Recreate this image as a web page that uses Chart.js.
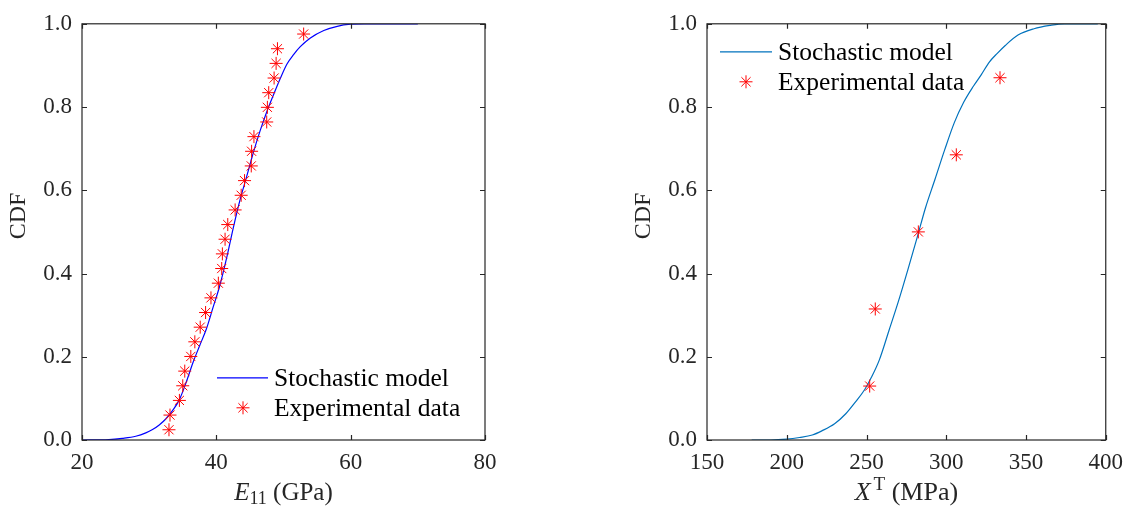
<!DOCTYPE html>
<html>
<head>
<meta charset="utf-8">
<script src="https://cdn.jsdelivr.net/npm/chart.js@4.4.1/dist/chart.umd.min.js"></script>
<style>
  html, body { margin: 0; padding: 0; background: #fff; }
  body { width: 1132px; height: 506px; position: relative; overflow: hidden; }
  canvas { position: absolute; top: 0; }
  #c1 { left: 0; }
  #c2 { left: 566px; }
</style>
</head>
<body>
<canvas id="c1" width="566" height="506"></canvas>
<canvas id="c2" width="566" height="506"></canvas>
<script>
// ---------- Data ----------
// Left panel: E11 (GPa)
const leftModelX = [20, 24, 26, 28, 29.5, 30.5, 31.5, 32.5, 33.5, 34.5, 35.5, 36.5, 37.5, 38.5, 39.5, 40.5, 41.5, 42.5, 43.5, 44.5, 45.5, 46.5, 47.5, 48.5, 49.5, 50.5, 51.5, 52.5, 54, 56, 58, 60, 62, 70];
const leftModelCDF = [0, 0.001, 0.004, 0.009, 0.017, 0.025, 0.036, 0.051, 0.071, 0.097, 0.138, 0.185, 0.226, 0.266, 0.318, 0.37, 0.435, 0.508, 0.575, 0.632, 0.69, 0.742, 0.788, 0.829, 0.868, 0.903, 0.926, 0.945, 0.966, 0.984, 0.994, 0.999, 1.0, 1.0];
const leftExpX = [32.95, 33.1, 34.5, 35.0, 35.3, 36.2, 36.8, 37.6, 38.4, 39.2, 40.3, 40.8, 40.9, 41.3, 41.7, 42.8, 43.7, 44.2, 45.2, 45.25, 45.6, 47.5, 47.6, 47.8, 48.6, 48.9, 49.1, 53.0];
const leftExpCDF = [0.0246, 0.0599, 0.0951, 0.1303, 0.1655, 0.2007, 0.2359, 0.2711, 0.3063, 0.3415, 0.3768, 0.4120, 0.4472, 0.4824, 0.5176, 0.5528, 0.5880, 0.6232, 0.6585, 0.6937, 0.7289, 0.7641, 0.7993, 0.8345, 0.8697, 0.9049, 0.9401, 0.9754];

// Right panel: X^T (MPa)
const rightModelX = [178, 190, 200, 208, 216, 222, 230, 237, 243, 249, 253, 258, 264, 270, 276, 282, 287, 293, 299, 305, 311, 317, 322, 327, 332, 337, 345, 355, 365, 374, 395];
const rightModelCDF = [0, 0, 0.002, 0.006, 0.012, 0.022, 0.039, 0.063, 0.091, 0.122, 0.150, 0.192, 0.262, 0.333, 0.41, 0.49, 0.558, 0.627, 0.697, 0.762, 0.812, 0.85, 0.878, 0.908, 0.929, 0.948, 0.973, 0.988, 0.996, 1.0, 1.0];
const rightExpX = [252, 255.5, 282.5, 306.3, 333.7];
const rightExpCDF = [0.1296, 0.3148, 0.5, 0.6852, 0.8704];

// Axis ranges and tick labels
const leftXTicks = [20, 40, 60, 80];
const rightXTicks = [150, 200, 250, 300, 350, 400];
const yTicks = [0.0, 0.2, 0.4, 0.6, 0.8, 1.0];
const legendLabels = ['Stochastic model', 'Experimental data'];

// ---------- Helpers ----------
const FONT = '"Liberation Serif", "Times New Roman", serif';
const AXIS_COLOR = '#262626';

function pts(xs, ys) { return xs.map((x, i) => ({ x: x, y: ys[i] })); }

function drawStar(ctx, x, y, r, color) {
  ctx.save();
  ctx.strokeStyle = color;
  ctx.lineWidth = 1;
  ctx.beginPath();
  for (let k = 0; k < 4; k++) {
    const a = k * Math.PI / 4;
    const dx = Math.cos(a) * r, dy = Math.sin(a) * r;
    ctx.moveTo(x - dx, y - dy);
    ctx.lineTo(x + dx, y + dy);
  }
  ctx.stroke();
  ctx.restore();
}

const framePlugin = {
  id: 'frame',
  afterDraw(chart, args, opts) {
    const ctx = chart.ctx;
    const a = chart.chartArea;
    const xs = chart.scales.x, ys = chart.scales.y;
    ctx.save();
    // box
    ctx.strokeStyle = AXIS_COLOR;
    ctx.lineWidth = 1.2;
    ctx.strokeRect(a.left, a.top, a.right - a.left, a.bottom - a.top);
    // inward ticks on all sides
    const tl = 5;
    ctx.beginPath();
    xs.ticks.forEach(t => {
      const px = Math.round(xs.getPixelForValue(t.value)) + 0.5;
      ctx.moveTo(px, a.bottom); ctx.lineTo(px, a.bottom - tl);
      ctx.moveTo(px, a.top); ctx.lineTo(px, a.top + tl);
    });
    ys.ticks.forEach(t => {
      const py = Math.round(ys.getPixelForValue(t.value)) + 0.5;
      ctx.moveTo(a.left, py); ctx.lineTo(a.left + tl, py);
      ctx.moveTo(a.right, py); ctx.lineTo(a.right - tl, py);
    });
    ctx.stroke();

    // y title
    ctx.fillStyle = AXIS_COLOR;
    ctx.save();
    ctx.translate(a.left - 63, 216);
    ctx.rotate(-Math.PI / 2);
    ctx.font = '24px ' + FONT;
    ctx.textAlign = 'center';
    ctx.textBaseline = 'middle';
    ctx.fillText('CDF', 0, 0);
    ctx.restore();

    // x title (with sub/superscript)
    const cx = (a.left + a.right) / 2;
    const base = 500;
    const parts = opts.xTitle;
    let total = 0;
    parts.forEach(p => { ctx.font = p.font; total += ctx.measureText(p.t).width + (p.dx || 0); });
    let x = cx - total / 2;
    ctx.textAlign = 'left';
    ctx.textBaseline = 'alphabetic';
    parts.forEach(p => {
      ctx.font = p.font;
      x += (p.dx || 0);
      ctx.fillText(p.t, x, base + p.dy);
      x += ctx.measureText(p.t).width;
    });

    // legend
    const L = opts.legend;
    const lineDs = chart.data.datasets[0];
    const expDs = chart.data.datasets[1];
    ctx.strokeStyle = lineDs.borderColor;
    ctx.lineWidth = lineDs.borderWidth;
    ctx.beginPath();
    ctx.moveTo(a.left + L.lineX0, a.top + L.row1);
    ctx.lineTo(a.left + L.lineX1, a.top + L.row1);
    ctx.stroke();
    drawStar(ctx, a.left + L.starX, a.top + L.row2, 6.5, expDs.borderColor);
    ctx.fillStyle = '#000';
    ctx.font = '25.5px ' + FONT;
    ctx.textAlign = 'left';
    ctx.textBaseline = 'middle';
    ctx.fillText(lineDs.label, a.left + L.textX, a.top + L.row1 + 1);
    ctx.fillText(expDs.label, a.left + L.textX, a.top + L.row2 + 1);
    ctx.restore();
  }
};

function makeChart(id, cfg) {
  return new Chart(document.getElementById(id), {
    type: 'scatter',
    data: {
      datasets: [
        {
          label: legendLabels[0],
          data: pts(cfg.modelX, cfg.modelY),
          showLine: true,
          borderColor: cfg.lineColor,
          borderWidth: 1.2,
          pointRadius: 0,
          cubicInterpolationMode: 'monotone',
          fill: false,
          order: 2
        },
        {
          label: legendLabels[1],
          data: pts(cfg.expX, cfg.expY),
          showLine: false,
          pointStyle: 'star',
          pointRadius: 6.5,
          pointHoverRadius: 6.5,
          borderColor: '#ff0000',
          backgroundColor: '#ff0000',
          borderWidth: 1,
          order: 1
        }
      ]
    },
    options: {
      responsive: false,
      animation: false,
      events: [],
      layout: { padding: cfg.padding },
      plugins: {
        legend: { display: false },
        tooltip: { enabled: false },
        frame: { xTitle: cfg.xTitle, legend: cfg.legend }
      },
      scales: {
        x: {
          type: 'linear',
          min: cfg.xTicks[0],
          max: cfg.xTicks[cfg.xTicks.length - 1],
          afterBuildTicks: s => { s.ticks = cfg.xTicks.map(v => ({ value: v })); },
          grid: { display: false, drawTicks: false },
          border: { display: false },
          ticks: {
            padding: 9,
            color: AXIS_COLOR,
            font: { family: FONT, size: 23 },
            maxRotation: 0,
            callback: v => String(v)
          },
          afterFit: s => { s.height = 66; }
        },
        y: {
          type: 'linear',
          min: 0,
          max: 1,
          afterBuildTicks: s => { s.ticks = yTicks.map(v => ({ value: v })); },
          grid: { display: false, drawTicks: false },
          border: { display: false },
          ticks: {
            padding: 10,
            color: AXIS_COLOR,
            font: { family: FONT, size: 23 },
            callback: v => Number(v).toFixed(1)
          },
          afterFit: s => { s.width = 82; }
        }
      }
    },
    plugins: [framePlugin]
  });
}

makeChart('c1', {
  modelX: leftModelX, modelY: leftModelCDF,
  expX: leftExpX, expY: leftExpCDF,
  lineColor: '#0000ff',
  xTicks: leftXTicks,
  padding: { left: 0, right: 81, top: 20, bottom: 0 },
  xTitle: [
    { t: 'E', font: 'italic 25px ' + FONT, dy: 0 },
    { t: '11', font: '18px ' + FONT, dy: 4 },
    { t: ' (GPa)', font: '25px ' + FONT, dy: 0 }
  ],
  legend: { lineX0: 135, lineX1: 186, starX: 161, textX: 192, row1: 354, row2: 384 }
});

makeChart('c2', {
  modelX: rightModelX, modelY: rightModelCDF,
  expX: rightExpX, expY: rightExpCDF,
  lineColor: '#0072bd',
  xTicks: rightXTicks,
  padding: { left: 59, right: 23, top: 20, bottom: 0 },
  xTitle: [
    { t: 'X', font: 'italic 26px ' + FONT, dy: 0 },
    { t: 'T', font: '19px ' + FONT, dy: -10, dx: 3 },
    { t: ' (MPa)', font: '26px ' + FONT, dy: 0 }
  ],
  legend: { lineX0: 13, lineX1: 65, starX: 39, textX: 71, row1: 28, row2: 58 }
});
</script>
</body>
</html>
